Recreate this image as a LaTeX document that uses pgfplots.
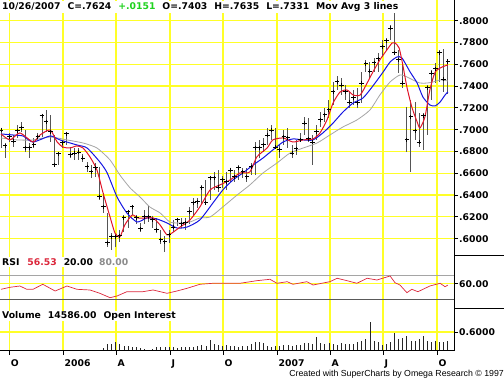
\documentclass[border=0pt]{standalone}
\usepackage{pgfplots}
\pgfplotsset{compat=1.18}
\usepackage{fontspec}
\setmainfont{DejaVu Sans}
\newfontfamily\footfont{Liberation Sans}
\definecolor{gridy}{RGB}{255,255,40}
\definecolor{mared}{RGB}{225,20,40}
\definecolor{mablue}{RGB}{20,20,225}
\definecolor{magray}{RGB}{165,165,165}
\definecolor{barc}{RGB}{85,85,85}
\definecolor{tgreen}{RGB}{30,210,30}
\definecolor{rsired}{RGB}{220,40,60}
\definecolor{lgray}{RGB}{140,140,140}
\newcommand\lf{\fontsize{9.3}{10}\selectfont\bfseries}
\pgfplotsset{
  panel/.style={
    scale only axis, anchor=south west, width=454bp,
    xmin=-0.244, xmax=110.49,
    separate axis lines, axis line style={draw=none},
    xtick={2.02,15.12,28.05,41.22,54.15,67.32,80.24,93.17,106.34},
    xmajorgrids, ymajorgrids,
    major grid style={gridy, line width=1.2bp},
    ytick pos=right, yticklabel pos=right,
    tick align=outside, major tick length=4bp,
    ytick style={black, line width=0.8bp},
    yticklabel style={font=\lf, anchor=west, inner sep=0pt, xshift=1bp},
  }
}
\begin{document}
\begin{tikzpicture}
% ---------------- price panel
\begin{axis}[panel, at={(0bp,124bp)}, height=256bp,
  ymin=0.5841, ymax=0.8190,
  xticklabels={}, xtick style={draw=none},
  ytick={0.60,0.62,0.64,0.66,0.68,0.70,0.72,0.74,0.76,0.78,0.80},
  yticklabels={.6000,.6200,.6400,.6600,.6800,.7000,.7200,.7400,.7600,.7800,.8000}]
\addplot[only marks, mark=+, mark size=2.3bp, black, line width=1bp,
  error bars/.cd, y dir=both, y explicit, error mark=none,
  error bar style={line width=1bp, barc}]
  table[x=i, y=c, y error plus expr=\thisrow{h}-\thisrow{c}, y error minus expr=\thisrow{c}-\thisrow{l}] {
i h l c
0 0.7016 0.6832 0.6997
1 0.6878 0.6740 0.6851
2 0.6970 0.6887 0.6933
3 0.6951 0.6841 0.6896
4 0.7043 0.6924 0.6988
5 0.7071 0.6979 0.7016
6 0.6997 0.6795 0.6832
7 0.6878 0.6740 0.6832
8 0.6924 0.6832 0.6860
9 0.6970 0.6906 0.6933
10 0.7135 0.6933 0.7126
11 0.7181 0.6979 0.7071
12 0.7135 0.6887 0.6979
13 0.6951 0.6658 0.6676
14 0.6795 0.6676 0.6777
15 0.6896 0.6832 0.6878
16 0.6970 0.6860 0.6961
17 0.6841 0.6740 0.6768
18 0.6832 0.6722 0.6786
19 0.6832 0.6722 0.6795
20 0.6777 0.6704 0.6740
21 0.6704 0.6612 0.6658
22 0.6676 0.6557 0.6612
23 0.6694 0.6566 0.6649
24 0.6658 0.6355 0.6383
25 0.6419 0.6236 0.6291
26 0.6236 0.5924 0.5961
27 0.6052 0.5896 0.6016
28 0.6052 0.5924 0.6016
29 0.6080 0.5970 0.6025
30 0.6217 0.6062 0.6190
31 0.6263 0.6098 0.6245
32 0.6309 0.6217 0.6291
33 0.6217 0.6135 0.6190
34 0.6144 0.6062 0.6089
35 0.6263 0.6135 0.6199
36 0.6300 0.6153 0.6199
37 0.6208 0.6098 0.6172
38 0.6190 0.6052 0.6080
39 0.6080 0.5951 0.5988
40 0.6025 0.5878 0.5970
41 0.6080 0.5961 0.6034
42 0.6172 0.6062 0.6107
43 0.6190 0.6117 0.6172
44 0.6190 0.6098 0.6135
45 0.6190 0.6080 0.6144
46 0.6291 0.6135 0.6245
47 0.6374 0.6217 0.6328
48 0.6374 0.6282 0.6337
49 0.6493 0.6309 0.6465
50 0.6539 0.6309 0.6328
51 0.6575 0.6355 0.6557
52 0.6612 0.6447 0.6557
53 0.6630 0.6429 0.6474
54 0.6575 0.6465 0.6539
55 0.6612 0.6447 0.6520
56 0.6649 0.6520 0.6630
57 0.6630 0.6520 0.6566
58 0.6676 0.6539 0.6649
59 0.6649 0.6557 0.6612
60 0.6649 0.6520 0.6566
61 0.6694 0.6584 0.6658
62 0.6887 0.6584 0.6832
63 0.6906 0.6740 0.6832
64 0.6924 0.6795 0.6860
65 0.7016 0.6860 0.6951
66 0.7043 0.6906 0.6997
67 0.7016 0.6832 0.6841
68 0.6860 0.6740 0.6814
69 0.6997 0.6860 0.6933
70 0.7016 0.6832 0.6924
71 0.6860 0.6740 0.6786
72 0.6906 0.6768 0.6823
73 0.6970 0.6887 0.6906
74 0.7117 0.6951 0.7061
75 0.7107 0.6887 0.6915
76 0.6951 0.6676 0.6887
77 0.7043 0.6906 0.6979
78 0.7162 0.7025 0.7089
79 0.7199 0.7071 0.7135
80 0.7273 0.7107 0.7181
81 0.7438 0.7227 0.7346
82 0.7493 0.7364 0.7438
83 0.7474 0.7318 0.7410
84 0.7410 0.7273 0.7346
85 0.7346 0.7199 0.7254
86 0.7364 0.7227 0.7291
87 0.7383 0.7199 0.7245
88 0.7529 0.7245 0.7428
89 0.7640 0.7529 0.7603
90 0.7621 0.7474 0.7538
91 0.7658 0.7529 0.7612
92 0.7704 0.7529 0.7649
93 0.7823 0.7667 0.7759
94 0.7841 0.7731 0.7814
95 0.7961 0.7823 0.7933
96 0.8116 0.7685 0.7704
97 0.7731 0.7520 0.7640
98 0.7612 0.7383 0.7428
99 0.7208 0.6795 0.6906
100 0.7273 0.6612 0.7117
101 0.7254 0.6906 0.6988
102 0.7153 0.6841 0.6887
103 0.7153 0.6814 0.7126
104 0.7410 0.6951 0.7383
105 0.7548 0.7273 0.7520
106 0.7612 0.7428 0.7557
107 0.7731 0.7438 0.7704
108 0.7740 0.7346 0.7465
109 0.7635 0.7331 0.7624
};
\addplot[magray, line width=0.8bp, smooth, tension=0.4] coordinates {
(0,0.6924) (3.9,0.6906) (7.8,0.6906) (12.0,0.6933) (16.1,0.6906) (20.0,0.6878)
(23.4,0.6832) (26.6,0.6722) (29.0,0.6584) (31.5,0.6465) (33.9,0.6383) (36.3,0.6291)
(38.8,0.6236) (41.2,0.6153) (43.7,0.6144) (46.1,0.6153) (48.5,0.6190) (51.0,0.6199)
(54.1,0.6291) (57.6,0.6401) (60.7,0.6493) (63.9,0.6603) (67.3,0.6694) (70.5,0.6786)
(73.7,0.6832) (77.1,0.6878) (80.2,0.6951) (83.4,0.7025) (86.8,0.7089) (90.0,0.7181)
(92.4,0.7318) (94.9,0.7438) (97.3,0.7502) (99.0,0.7484) (100.5,0.7456) (102.2,0.7428)
(103.9,0.7428) (105.4,0.7438) (107.1,0.7456) (109.0,0.7447)};
\addplot[mablue, line width=1bp, smooth, tension=0.4] coordinates {
(0,0.6961) (3.0,0.6951) (5.4,0.6942) (7.8,0.6887) (12.0,0.6942) (14.4,0.6906)
(18.5,0.6860) (21.0,0.6832) (24.1,0.6704) (25.9,0.6603) (28.3,0.6383) (30.7,0.6236)
(33.2,0.6153) (35.6,0.6190) (38.0,0.6181) (40.5,0.6144) (42.9,0.6098) (45.4,0.6107)
(48.5,0.6172) (51.7,0.6328) (54.1,0.6447) (56.6,0.6539) (59.0,0.6603) (61.5,0.6676)
(63.9,0.6740) (66.3,0.6814) (68.8,0.6887) (71.2,0.6915) (73.7,0.6906) (76.1,0.6906)
(78.5,0.6970) (81.0,0.7061) (83.4,0.7162) (85.9,0.7245) (88.3,0.7291) (90.7,0.7401)
(93.2,0.7529) (94.9,0.7621) (96.6,0.7667) (97.8,0.7658) (99.8,0.7529) (101.5,0.7428)
(102.9,0.7300) (104.6,0.7227) (105.9,0.7218) (107.1,0.7254) (108.3,0.7318) (109.0,0.7346)};
\addplot[mared, line width=1bp, smooth, tension=0.4] coordinates {
(0,0.6961) (2.2,0.6906) (4.6,0.6970) (7.8,0.6887) (9.5,0.6951) (12.0,0.6997)
(13.7,0.6887) (15.1,0.6841) (16.8,0.6832) (18.5,0.6851) (20.0,0.6832) (21.7,0.6750)
(23.4,0.6630) (24.9,0.6419) (26.6,0.6199) (27.8,0.6052) (29.0,0.6016) (30.2,0.6126)
(32.0,0.6217) (33.4,0.6190) (35.6,0.6190) (37.1,0.6190) (38.8,0.6126) (40.5,0.6034)
(41.7,0.6052) (43.7,0.6107) (46.1,0.6172) (48.5,0.6291) (51.0,0.6447) (53.4,0.6493)
(55.9,0.6539) (58.3,0.6603) (60.7,0.6612) (62.4,0.6750) (64.9,0.6832) (66.3,0.6906)
(68.8,0.6924) (71.2,0.6887) (73.7,0.6906) (76.1,0.6915) (77.8,0.6970) (79.5,0.7089)
(81.0,0.7245) (82.7,0.7346) (84.4,0.7364) (85.9,0.7318) (87.6,0.7318) (89.3,0.7428)
(90.7,0.7529) (92.4,0.7640) (94.1,0.7731) (95.4,0.7796) (96.1,0.7796) (97.1,0.7750)
(98.0,0.7594) (99.0,0.7392) (100.2,0.7208) (101.5,0.7071) (102.2,0.7016) (103.4,0.7117)
(104.6,0.7364) (105.9,0.7529) (107.6,0.7575) (109.0,0.7594)};
\end{axis}
% ---------------- RSI panel
\begin{axis}[panel, at={(0bp,71bp)}, height=53bp,
  ymin=-5.05, ymax=131.5,
  xticklabels={}, xtick style={draw=none},
  ytick={60}, yticklabels={60.00}]
\addplot[magray, line width=1bp] coordinates {(-1,80) (112,80)};
\addplot[black!65, line width=1bp] coordinates {(-1,20) (112,20)};
\addplot[rsired, line width=0.7bp] coordinates {
(0,45.7) (2.2,50.9) (4.6,54.2) (6.3,45.7) (7.8,45.7) (10.2,58.6) (13.2,41.3)
(16.1,54.2) (18.5,45.7) (21.7,43.9) (24.1,35.4) (26.6,24.1) (28.3,28.5) (30.7,39.5)
(34.6,39.5) (37.1,43.9) (40.5,35.4) (42.9,41.3) (45.4,48.3) (48.5,58.6) (51.7,61.2)
(55.1,61.2) (58.3,61.2) (62.4,67.9) (65.6,71.5) (67.3,61.2) (69.8,65.3) (71.2,58.6)
(74.6,65.3) (76.1,56.8) (80.2,65.3) (82.0,74.1) (84.4,67.9) (86.8,61.2) (89.3,74.1)
(91.7,69.7) (94.9,80.0) (96.1,62.7) (97.3,56.8) (99.0,37.0) (100.2,45.7) (101.7,39.5)
(104.6,54.2) (107.1,61.2) (108.3,52.4) (109.0,56.5)};
\end{axis}
% ---------------- volume panel
\begin{axis}[panel, at={(0bp,29.3bp)}, height=41.7bp,
  ymin=0, ymax=1.338,
  xtick pos=bottom, xtick style={black, line width=0.8bp},
  xticklabels={O,2006,A,J,O,2007,A,J,O},
  xticklabel style={font=\lf, anchor=north west, inner sep=0pt, xshift=1.5bp, yshift=-5bp},
  ytick={0.6}, yticklabels={0.6000}]
\addplot[ycomb, black!85, line width=0.9bp] table {
i v
25 0.086
26 0.214
27 0.214
28 0.268
29 0.214
30 0.161
31 0.161
32 0.129
33 0.107
34 0.086
35 0.054
37 0.054
38 0.107
39 0.129
40 0.107
41 0.129
42 0.107
43 0.086
44 0.107
45 0.107
46 0.129
47 0.129
48 0.161
49 0.193
50 0.161
51 0.343
52 0.214
53 0.193
54 0.161
55 0.193
56 0.161
57 0.161
58 0.129
59 0.161
60 0.161
61 0.214
62 0.268
63 0.268
64 0.236
65 0.161
66 0.129
67 0.161
68 0.161
69 0.193
70 0.193
71 0.161
72 0.193
73 0.193
74 0.236
75 0.236
76 0.214
77 0.450
78 0.236
79 0.214
80 0.236
81 0.214
82 0.193
83 0.236
84 0.214
85 0.214
86 0.214
87 0.268
88 0.300
89 0.375
90 0.911
91 0.321
92 0.268
93 0.193
94 0.214
95 0.268
96 0.557
97 0.375
98 0.407
99 0.482
100 0.321
101 0.321
102 0.375
103 0.482
104 0.300
105 0.268
106 0.321
107 0.268
108 0.268
109 0.300
};
\end{axis}
% ---------------- frame lines
\draw[black, line width=1bp] (454bp,29.3bp) -- (454bp,380bp);
\draw[black, line width=1bp] (0bp,29.3bp) -- (454.5bp,29.3bp);
\draw[black, line width=1bp] (454bp,124bp) -- (504bp,124bp);
\draw[black, line width=1bp] (454bp,71bp) -- (504bp,71bp);
% ---------------- texts
\node[anchor=west, fill=white, inner sep=1bp, font=\lf] at (1bp,373bp)
  {10/26/2007\hspace{7bp}C=.7624\hspace{7bp}\textcolor{tgreen}{+.0151}\hspace{7bp}O=.7403\hspace{7bp}H=.7635\hspace{7bp}L=.7331\hspace{7bp}Mov Avg 3 lines};
\node[anchor=west, fill=white, inner sep=1bp, font=\lf] at (1bp,118bp)
  {RSI\hspace{8bp}\textcolor{rsired}{56.53}\hspace{7bp}20.00\hspace{6bp}\textcolor{lgray}{80.00}};
\node[anchor=west, fill=white, inner sep=1bp, font=\lf] at (1bp,64bp)
  {Volume\hspace{7bp}14586.00\hspace{7bp}Open Interest};
\node[anchor=east, inner sep=0pt, font=\footfont\fontsize{8.8}{10}\selectfont] at (504bp,6bp)
  {Created with SuperCharts by Omega Research \textcopyright\ 1997};
\pgfresetboundingbox
\useasboundingbox (0bp,0bp) rectangle (504bp,380bp);
\end{tikzpicture}
\end{document}
